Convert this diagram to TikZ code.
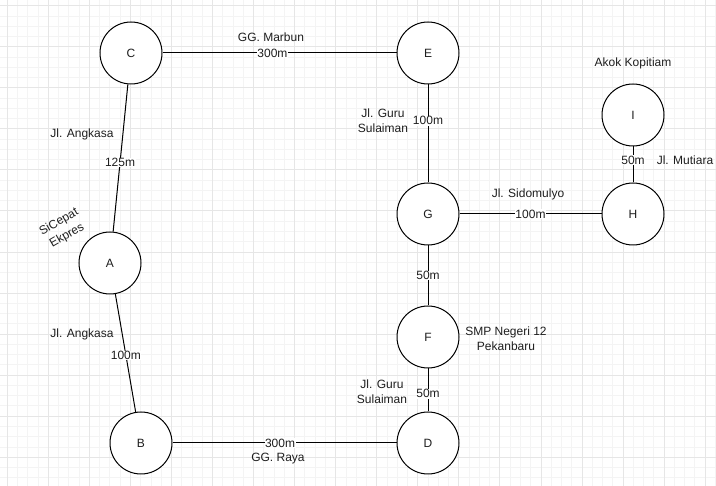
\documentclass[tikz,border=0pt]{standalone}
\usepackage{fontspec}
\setmainfont{Liberation Sans}
\usepackage{tikz}
\definecolor{gridminor}{HTML}{F4F4F4}
\definecolor{gridmajor}{HTML}{E6E6E6}
\definecolor{inktext}{HTML}{1E1E1E}
\tikzstyle{node_place} = [circle, draw, line width=1pt, fill=white, inner sep=0pt, minimum size=62pt, font=\fontsize{12}{15}\selectfont, text=inktext]
\tikzstyle{edge_road} = [line width=1pt]
\tikzstyle{label_dist} = [fill=white, inner sep=0.5pt, font=\fontsize{12}{15}\selectfont, text=inktext]
\tikzstyle{label_road} = [align=center, inner sep=0pt, font=\fontsize{12}{15}\selectfont, text=inktext]

\begin{document}
\begin{tikzpicture}[x=1pt,y=-1pt]
\useasboundingbox (0,0) rectangle (716,486);
% grid
\foreach \i in {0,...,69} \draw[gridminor, line width=0.8pt] ({7.25+\i*10.2625},0) -- ({7.25+\i*10.2625},486);
\foreach \i in {0,...,47} \draw[gridminor, line width=0.8pt] (0,{5.65+\i*10.2625}) -- (716,{5.65+\i*10.2625});
\foreach \i in {0,...,17} \draw[gridmajor, line width=0.8pt] ({7.25+\i*41.05},0) -- ({7.25+\i*41.05},486);
\foreach \i in {0,...,11} \draw[gridmajor, line width=0.8pt] (0,{5.65+\i*41.05}) -- (716,{5.65+\i*41.05});

\node (A) at (110,263) [node_place] {A};
\node (B) at (141,443) [node_place] {B};
\node (C) at (131,53) [node_place] {C};
\node (D) at (428,443) [node_place] {D};
\node (E) at (428,53) [node_place] {E};
\node (F) at (428,337) [node_place] {F};
\node (G) at (428,214) [node_place] {G};
\node (H) at (633,214) [node_place] {H};
\node (I) at (633,115) [node_place] {I};

\draw[edge_road] (C)--(A) node[label_dist, pos=0.53] (dCA) {125m};
\draw[edge_road] (C)--(E) node[label_dist, pos=0.47] (dCE) {300m};
\draw[edge_road] (E)--(G) node[label_dist, pos=0.37] (dEG) {100m};
\draw[edge_road] (G)--(H) node[label_dist, pos=0.5] (dGH) {100m};
\draw[edge_road] (H)--(I) node[label_dist, pos=0.62] (dHI) {50m};
\draw[edge_road] (G)--(F) node[label_dist, midway] (dGF) {50m};
\draw[edge_road] (F)--(D) node[label_dist, pos=0.59] (dFD) {50m};
\draw[edge_road] (A)--(B) node[label_dist, pos=0.52] (dAB) {100m};
\draw[edge_road] (B)--(D) node[label_dist, pos=0.48] (dBD) {300m};

\node (rCA) at (82,134) [label_road] {Jl. Angkasa};
\node (rCE) at (271,37) [label_road] {GG. Marbun};
\node (rEG) at (383,121) [label_road] {Jl. Guru\\Sulaiman};
\node (rGH) at (528,194) [label_road] {Jl. Sidomulyo};
\node (rHI) at (685,160) [label_road] {Jl. Mutiara};
\node (pI) at (633,63) [label_road] {Akok Kopitiam};
\node (rAB) at (82,334) [label_road] {Jl. Angkasa};
\node (pF) at (506,339) [label_road] {SMP Negeri 12\\Pekanbaru};
\node (rFD) at (382,392) [label_road] {Jl. Guru\\Sulaiman};
\node (rBD) at (278,459) [label_road] {GG. Raya};
\node (pA) at (63,229) [label_road, rotate=30, font=\fontsize{12}{16}\selectfont] {SiCepat\\Ekpres};
\end{tikzpicture}
\end{document}
